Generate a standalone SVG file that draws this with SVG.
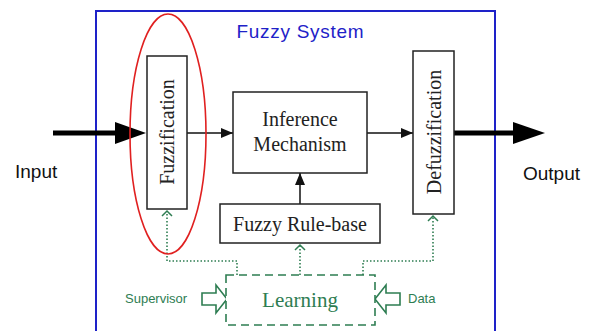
<svg xmlns="http://www.w3.org/2000/svg" width="595" height="331" viewBox="0 0 595 331">
<style>
.box{fill:#fff;stroke:#222;stroke-width:1.5}
.serif{font-family:"Liberation Serif","Times New Roman",serif;fill:#222;font-size:20px;text-anchor:middle}
.sans{font-family:"Liberation Sans",Arial,sans-serif}
.grn{fill:#2e7d52}
.dot{fill:none;stroke:#2e7d52;stroke-width:1.6;stroke-dasharray:1.5 2}
.chev{fill:none;stroke:#2e7d52;stroke-width:1.5}
.thin{stroke:#111;stroke-width:1.5;fill:none}
</style>
<defs>
<marker id="ah" viewBox="0 0 12 10" refX="12" refY="5" markerWidth="12" markerHeight="10" markerUnits="userSpaceOnUse" orient="auto">
<path d="M0,0 L12,5 L0,10 Z" fill="#111"/>
</marker>
</defs>
<rect width="595" height="331" fill="#fff"/>
<rect x="96" y="11" width="399" height="340" fill="none" stroke="#1e22c8" stroke-width="2"/>
<text x="300" y="38" class="sans" font-size="19" fill="#1e22c8" text-anchor="middle" textLength="127">Fuzzy System</text>

<g id="connectors">
<line x1="53" y1="133" x2="118" y2="133" stroke="#000" stroke-width="5"/>
<path d="M115,122 L146,133 L115,144 Z" fill="#000"/>
<line x1="187" y1="133" x2="233" y2="133" class="thin" marker-end="url(#ah)"/>
<line x1="367" y1="133" x2="413" y2="133" class="thin" marker-end="url(#ah)"/>
<line x1="454" y1="133" x2="516" y2="133" stroke="#000" stroke-width="5"/>
<path d="M513,122 L545,133 L513,144 Z" fill="#000"/>
<line x1="300" y1="204" x2="300" y2="173" class="thin" marker-end="url(#ah)"/>
<path d="M237,275 V261 H167 V211" class="dot"/>
<path d="M162,216 L167,211 L172,216" class="chev"/>
<path d="M300,275 V245" class="dot"/>
<path d="M295,250 L300,245 L305,250" class="chev"/>
<path d="M363,275 V261 H433 V216" class="dot"/>
<path d="M428,221 L433,216 L438,221" class="chev"/>
<path d="M202,293 H216 V285 L227,299 L216,313 V305 H202 Z" fill="#fff" stroke="#2e7d52" stroke-width="1.6"/>
<path d="M400,293 H386 V285 L375,299 L386,313 V305 H400 Z" fill="#fff" stroke="#2e7d52" stroke-width="1.6"/>
</g>

<ellipse cx="168" cy="134" rx="38" ry="120" fill="none" stroke="#e02020" stroke-width="1.6"/>

<g id="fuzzification">
<rect x="147" y="56" width="40" height="153" class="box"/>
<text class="serif" transform="translate(174 132) rotate(-90)" x="0" y="0">Fuzzification</text>
</g>
<g id="inference">
<rect x="233" y="92" width="134" height="81" class="box"/>
<text class="serif" x="300" y="126">Inference</text>
<text class="serif" x="300" y="151">Mechanism</text>
</g>
<g id="defuzzification">
<rect x="413" y="51" width="41" height="163" class="box"/>
<text class="serif" transform="translate(441 132) rotate(-90)" x="0" y="0">Defuzzification</text>
</g>
<g id="rulebase">
<rect x="220" y="204" width="160" height="39" class="box"/>
<text class="serif" x="300" y="231">Fuzzy Rule-base</text>
</g>
<g id="learning">
<rect x="226" y="275" width="149" height="50" fill="#fff" stroke="#2e7d52" stroke-width="1.6" stroke-dasharray="8 5"/>
<text x="300" y="307" font-family="Liberation Serif,Times New Roman,serif" font-size="21" fill="#2e7d52" text-anchor="middle">Learning</text>
</g>
<g id="input"><text x="15" y="178" class="sans" font-size="19" fill="#111">Input</text></g>
<g id="output"><text x="523" y="180" class="sans" font-size="19" fill="#111">Output</text></g>
<g id="supervisor"><text x="125" y="303" class="sans grn" font-size="13">Supervisor</text></g>
<g id="data"><text x="408" y="303" class="sans grn" font-size="13">Data</text></g>
</svg>
